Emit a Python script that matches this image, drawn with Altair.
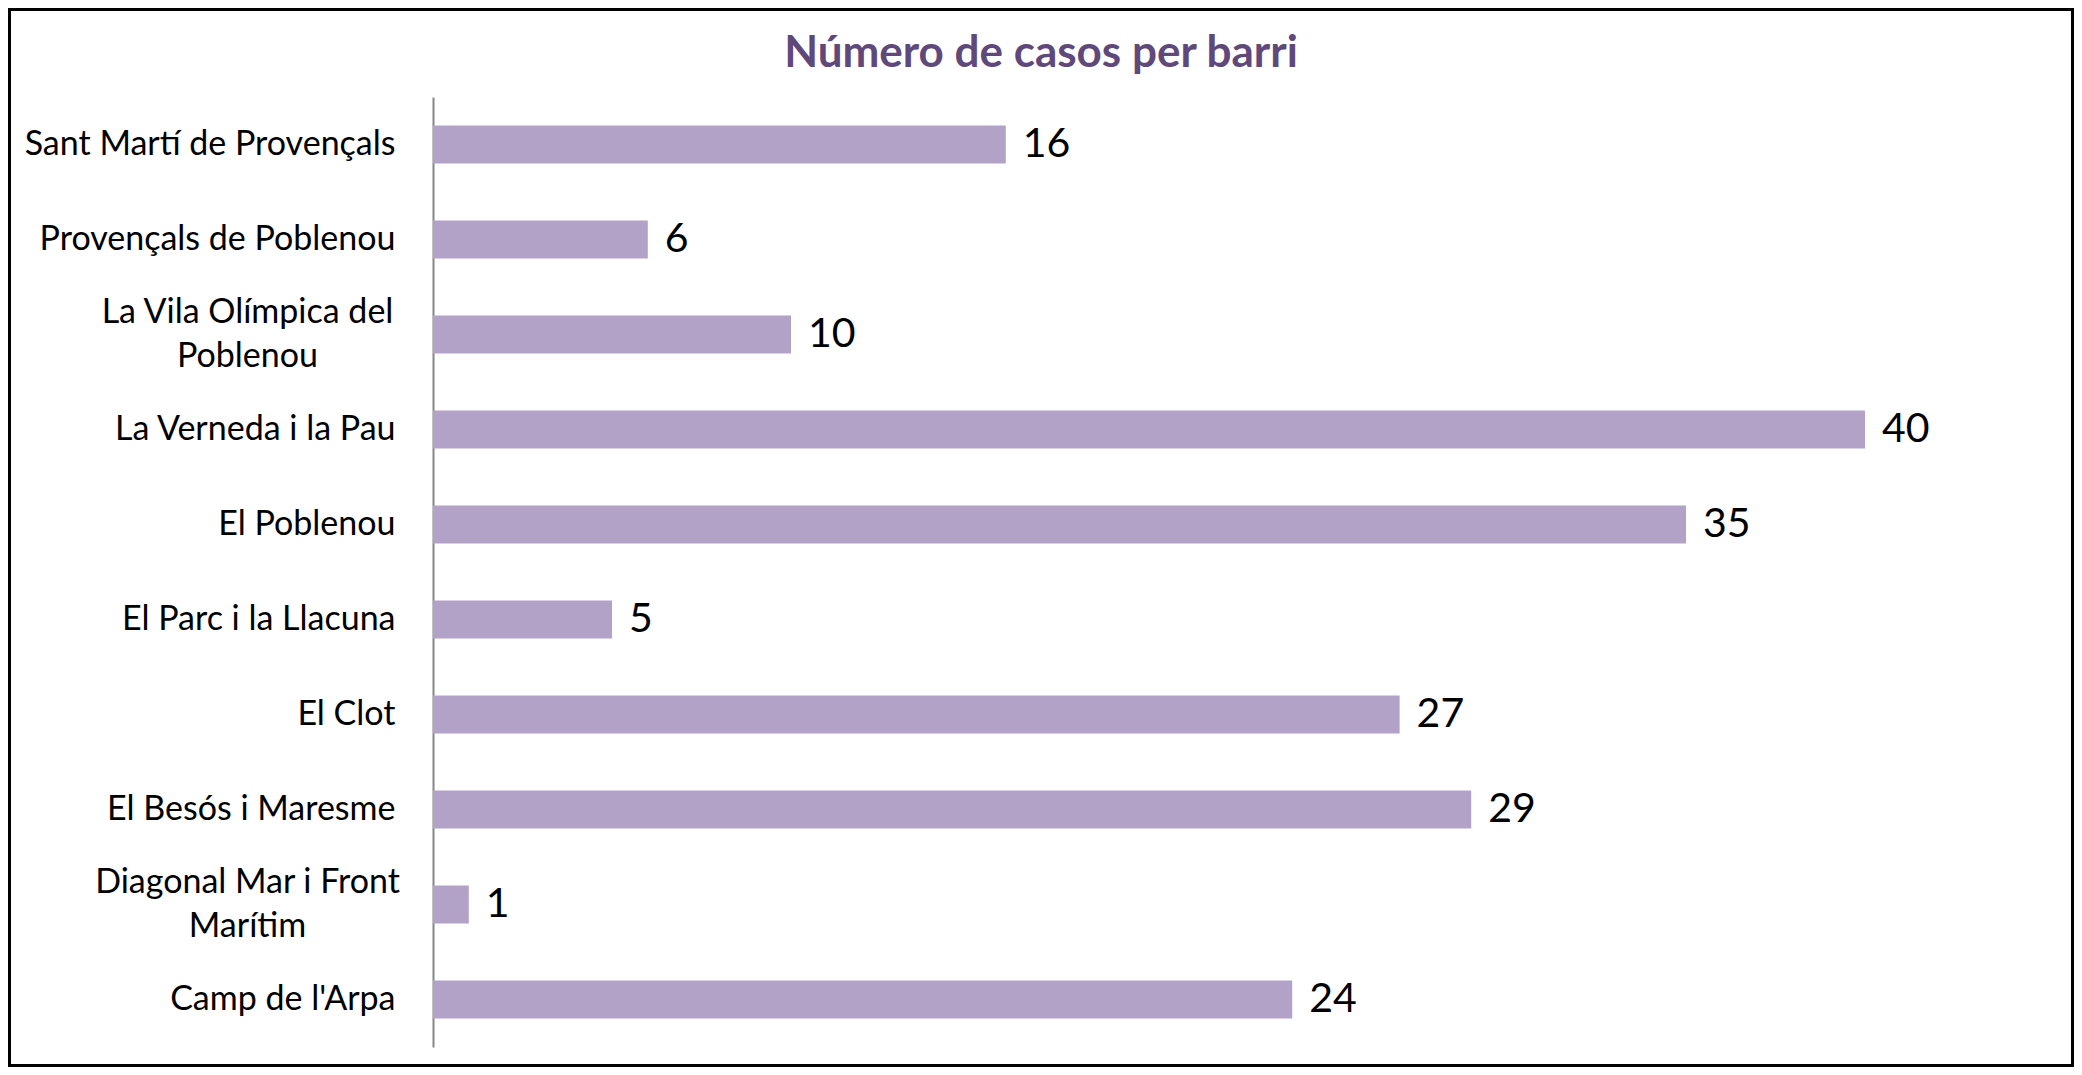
import altair as alt
import pandas as pd

# ---- data ----
barris = [
    "Sant Martí de Provençals",
    "Provençals de Poblenou",
    "La Vila Olímpica del Poblenou",
    "La Verneda i la Pau",
    "El Poblenou",
    "El Parc i la Llacuna",
    "El Clot",
    "El Besós i Maresme",
    "Diagonal Mar i Front Marítim",
    "Camp de l'Arpa",
]
casos = [16, 6, 10, 40, 35, 5, 27, 29, 1, 24]

title_text = "Número de casos per barri"

# two-line labels (as wrapped in the reference)
wrapped = {
    "La Vila Olímpica del Poblenou": ["La Vila Olímpica del", "Poblenou"],
    "Diagonal Mar i Front Marítim": ["Diagonal Mar i Front", "Marítim"],
}


def js_str(s):
    return "'" + s.replace("\\", "\\\\").replace("'", "\\'") + "'"


label_expr = "datum.value"
for k, lines in wrapped.items():
    arr = "[" + ",".join(js_str(l) for l in lines) + "]"
    label_expr = f"datum.value == {js_str(k)} ? {arr} : ({label_expr})"

multi_test = " || ".join(f"datum.value == {js_str(k)}" for k in wrapped)

df = pd.DataFrame({"barri": barris, "casos": casos})

FONT = "Lato"
BAR = "#B3A2C7"
W, H = 1611, 950
LINE_H = 44

y_enc = alt.Y(
    "barri:N",
    sort=barris,
    scale=alt.Scale(paddingInner=0.6, paddingOuter=0.3),
    axis=alt.Axis(
        title=None,
        ticks=False,
        domainColor="#868686",
        domainWidth=2,
        labelFont=FONT,
        labelFontSize=34,
        labelColor="#000000",
        labelLimit=0,
        labelLineHeight=LINE_H,
        labelBaseline="middle",
        labelExpr=label_expr,
        labelAlign={"condition": {"test": multi_test, "value": "center"}, "value": "right"},
        labelPadding={"condition": {"test": multi_test, "value": 186}, "value": 38},
        labelOffset={"condition": {"test": multi_test, "value": -LINE_H / 2}, "value": 0},
        grid=False,
    ),
)
x_enc = alt.X("casos:Q", scale=alt.Scale(domain=[0, 45], nice=False), axis=None)

bars = alt.Chart(df).mark_bar(color=BAR).encode(x=x_enc, y=y_enc)

values = alt.Chart(df).mark_text(
    align="left", baseline="middle", dx=17, font=FONT, fontSize=41, color="#000000"
).encode(x=x_enc, y=alt.Y("barri:N", sort=barris), text="casos:Q")

frame = alt.Chart(pd.DataFrame({"f": [0]})).mark_rect(
    fill="transparent", stroke="#000000", strokeWidth=3
).encode(
    x=alt.value(-423.5), x2=alt.value(1639.5), y=alt.value(-87.5), y2=alt.value(968.5)
)

chart = (
    alt.layer(frame, bars, values)
    .properties(
        width=W,
        height=H,
        padding=0,
        title=alt.TitleParams(
            text=title_text,
            font=FONT,
            fontSize=44,
            fontWeight="bold",
            color="#5F497A",
            anchor="middle",
            frame="bounds",
            baseline="alphabetic",
            offset=-103,
        ),
    )
    .configure_view(stroke=None)
)

chart.save("out.html", embed_options={"renderer": "svg", "actions": False})
